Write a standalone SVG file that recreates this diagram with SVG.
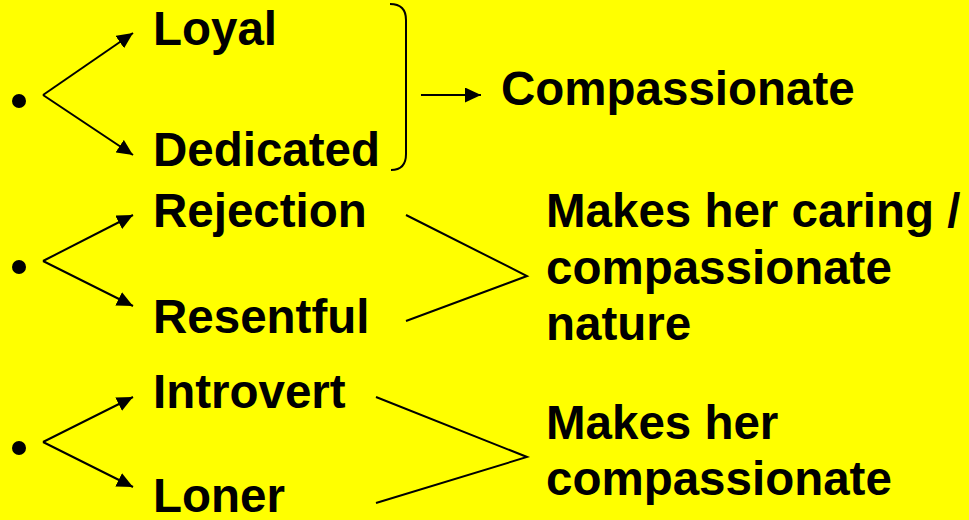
<svg xmlns="http://www.w3.org/2000/svg" width="969" height="520" viewBox="0 0 969 520">
<style>
  text { font-family: "Liberation Sans", Arial, sans-serif; font-weight: bold; font-size: 47.5px; fill: #000; }
  .ln { stroke: #000; stroke-width: 2; fill: none; }
  .arr { marker-end: url(#ah); }
  .dot { fill: #000; }
</style>
<defs>
  <marker id="ah" markerUnits="userSpaceOnUse" markerWidth="17" markerHeight="15" refX="16" refY="7.5" orient="auto" viewBox="0 0 17 15">
    <path d="M0,0 L16,7.5 L0,15 Z" fill="#000"/>
  </marker>
</defs>
<rect x="0" y="0" width="969" height="520" fill="#ffff00"/>

<g id="bullet1"><circle class="dot" cx="19" cy="101" r="7"/></g>
<g id="loyal"><text x="153" y="45">Loyal</text></g>
<g id="dedicated"><text x="153" y="166">Dedicated</text></g>
<g id="bracket"><path class="ln" d="M390,4 Q406,4 406,20 L406,154 Q406,170 391,170"/></g>
<g id="compassionate"><text x="501" y="105">Compassionate</text></g>

<g id="bullet2"><circle class="dot" cx="19" cy="267" r="7"/></g>
<g id="rejection"><text x="153" y="227">Rejection</text></g>
<g id="resentful"><text x="153" y="333">Resentful</text></g>
<g id="caring"><text x="546" y="227">Makes her caring /</text><text x="546" y="284">compassionate</text><text x="546" y="340">nature</text></g>

<g id="bullet3"><circle class="dot" cx="19" cy="448" r="7"/></g>
<g id="introvert"><text x="153" y="408">Introvert</text></g>
<g id="loner"><text x="153" y="512">Loner</text></g>
<g id="makesher"><text x="546" y="439">Makes her</text><text x="546" y="495">compassionate</text></g>

<g id="connectors">
  <line class="ln arr" x1="43" y1="95" x2="133" y2="33"/>
  <line class="ln arr" x1="43" y1="95" x2="133" y2="155"/>
  <line class="ln arr" x1="421" y1="95" x2="481" y2="95"/>
  <line class="ln arr" x1="43" y1="261" x2="133" y2="215"/>
  <line class="ln arr" x1="43" y1="261" x2="133" y2="306"/>
  <polyline class="ln" points="406,215 527,276 406,321"/>
  <line class="ln arr" x1="43" y1="442" x2="133" y2="397"/>
  <line class="ln arr" x1="43" y1="442" x2="133" y2="487"/>
  <polyline class="ln" points="376,397 527,457 376,503"/>
</g>
</svg>
